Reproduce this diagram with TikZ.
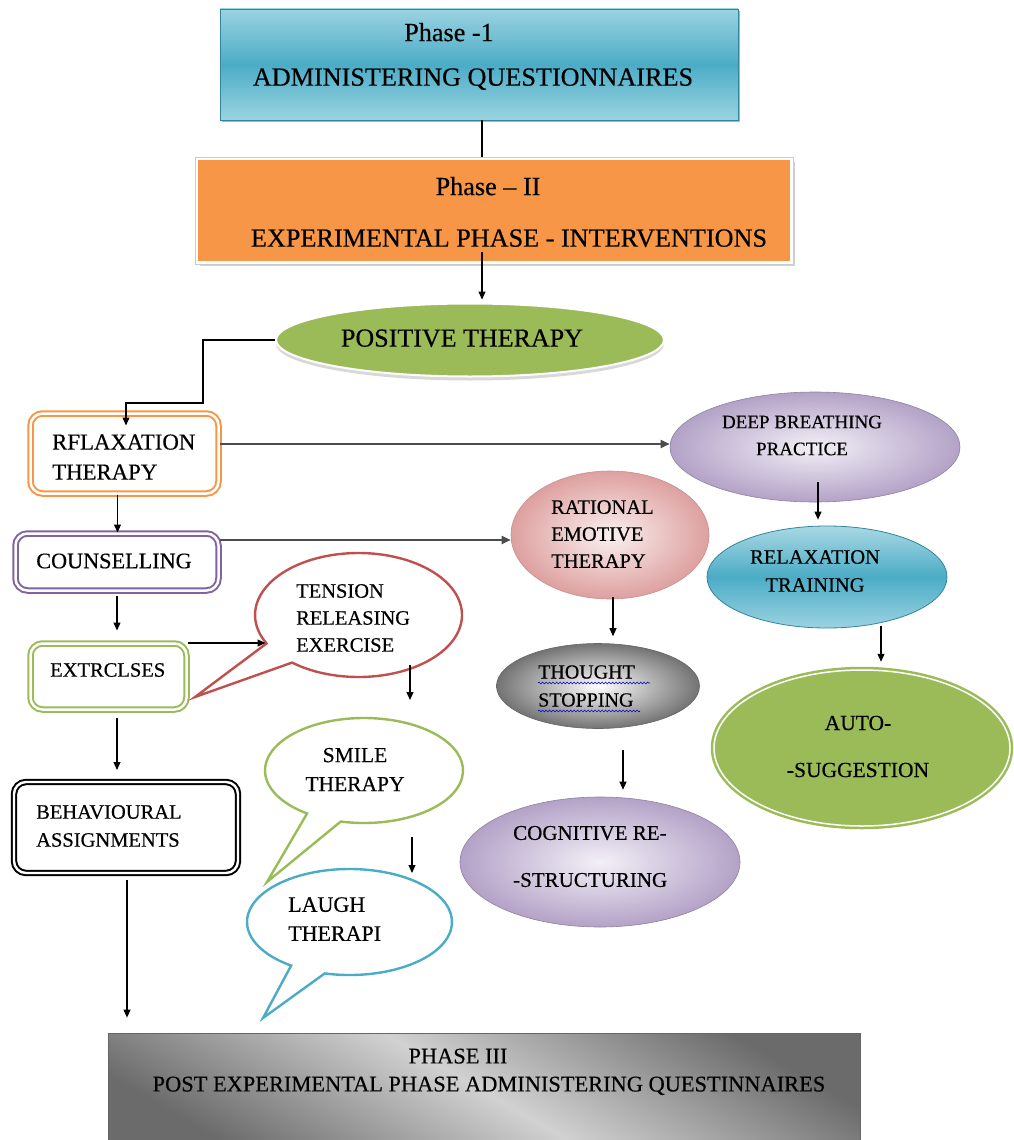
\documentclass[tikz,border=0pt]{standalone}
\usepackage{fontspec}
\setmainfont{Liberation Serif}[FakeBold=0.4]
\usetikzlibrary{shapes.geometric,arrows.meta,calc,shadows,decorations.pathmorphing}
\definecolor{teal1}{HTML}{4BACC6}
\definecolor{teal2}{HTML}{9BD3E1}
\definecolor{tealdk}{HTML}{31859C}
\definecolor{orng}{HTML}{F79646}
\definecolor{grn}{HTML}{9BBB59}
\definecolor{purp}{HTML}{8064A2}
\definecolor{redb}{HTML}{C0504D}
\definecolor{lav}{HTML}{B3A2C7}
\definecolor{lavl}{HTML}{F3F0F7}
\definecolor{pinkd}{HTML}{DDA09F}
\definecolor{pinkl}{HTML}{FBF0F0}
\definecolor{bluel}{HTML}{A9D8E4}
\begin{document}
\begin{tikzpicture}[x=1pt,y=-1pt,
  arr/.style={-{Triangle[length=8pt,width=7pt]}, line width=1.1pt, black},
  arrg/.style={-{Triangle[length=9pt,width=8pt]}, line width=1.8pt, draw=black!70},
  dbox/.style={rectangle, rounded corners=12pt, double=white, double distance=2.5pt, line width=2pt, fill=white, inner sep=0pt},
  bub/.style={line width=2.4pt, fill=white},
  t/.style={inner sep=0pt, align=left, font=\fontsize{21}{28}\selectfont},
  th/.style={inner sep=0pt, text depth=0pt, font=\fontsize{26.2}{30}\selectfont},
  ell/.style={ellipse, inner sep=0pt}
]
\useasboundingbox (0,0) rectangle (1013,1140);

% Phase 1
\node[rectangle, minimum width=518pt, minimum height=111pt, top color=teal2, bottom color=teal2, middle color=teal1,
      draw=tealdk, line width=0.8pt, drop shadow={shadow xshift=1.5pt, shadow yshift=-2pt, fill=black!60}] (p1) at (479,64.5) {};
\node[th] (p1a) at (449,32) {Phase -1};
\node[th] (p1b) at (473,77) {ADMINISTERING QUESTIONNAIRES};

% Phase 2
\node[rectangle, minimum width=595pt, minimum height=104pt, fill=orng, draw=white, line width=3pt,
      drop shadow={shadow xshift=3pt, shadow yshift=-3pt, fill=black!35}] (p2) at (494,210.5) {};
\draw[black!20, line width=0.6pt] (p2.north west) rectangle (p2.south east);
\node[th] (p2a) at (488,186) {Phase – II};
\node[th] (p2b) at (509,238) {EXPERIMENTAL PHASE - INTERVENTIONS};

\draw[line width=1.1pt] ([xshift=3pt]p1.south) -- ([xshift=3pt]p1.south |- p2.north);

% Positive therapy
\node[ell, minimum width=388pt, minimum height=73pt, fill=grn, draw=white, line width=2pt,
      drop shadow={shadow xshift=0pt, shadow yshift=-4pt, fill=black!30}] (pt) at (470,340) {};
\node[th, font=\fontsize{26}{30}\selectfont] (ptT) at (462,338) {POSITIVE THERAPY};
\draw[arr] ($(p2.south)+(-12,-12)$) -- ($(pt.north)+(12,-3)$);

% Left column boxes
\node[dbox, draw=orng, minimum width=188pt, minimum height=80pt] (rt) at (124.5,453.5) {};
\node[t, anchor=west, font=\fontsize{22.8}{30}\selectfont] (rtT) at (52,457) {RFLAXATION\\THERAPY};

\node[dbox, draw=purp, minimum width=203pt, minimum height=57pt] (co) at (117,562) {};
\node[t, font=\fontsize{22.2}{28}\selectfont] (coT) at (114,561) {COUNSELLING};

\node[dbox, draw=grn, minimum width=156pt, minimum height=66pt] (ex) at (108.5,676.5) {};
\node[t, anchor=west, font=\fontsize{20.5}{26}\selectfont] (exT) at (50,670) {EXTRCLSES};

\node[dbox, draw=black, line width=2pt, double distance=2.4pt, minimum width=224pt, minimum height=91pt] (beh) at (126,827.5) {};
\node[t, anchor=west, font=\fontsize{20.5}{28}\selectfont] (beT) at (36,826) {BEHAVIOURAL\\ASSIGNMENTS};

% Phase 3
\node[rectangle, minimum width=752pt, minimum height=117pt, shading=axis, top color=black!58, bottom color=black!58, middle color=black!18,
      shading angle=-30, draw=black!60, line width=0.8pt] (p3) at (484,1091.5) {};
\node[th, font=\fontsize{22.4}{26}\selectfont] (p3a) at (458,1056) {PHASE III};
\node[th, font=\fontsize{22.4}{26}\selectfont] (p3b) at (489,1084) {POST EXPERIMENTAL PHASE ADMINISTERING QUESTINNAIRES};

% Speech bubbles
\node[ell, minimum width=207pt, minimum height=124pt] (ten) at (358.5,615) {};
\draw[bub, draw=redb] ($(ten.center)+(230.1:103.5pt and 62pt)$) arc[start angle=230.1, end angle=567.3, x radius=103.5pt, y radius=62pt] -- (195,697) -- cycle;
\node[t, anchor=west, font=\fontsize{20.5}{27}\selectfont] (teT) at (296,618) {TENSION\\RELEASING\\EXERCISE};

\node[ell, minimum width=198pt, minimum height=105pt] (sm) at (364,770.5) {};
\draw[bub, draw=grn] ($(sm.center)+(256.4:99pt and 52.5pt)$) arc[start angle=256.4, end angle=594.9, x radius=99pt, y radius=52.5pt] -- (267,882) -- cycle;
\node[t, align=center, font=\fontsize{21.5}{29}\selectfont] (smT) at (355,769.5) {SMILE\\THERAPY};

\node[ell, minimum width=205pt, minimum height=106pt] (la) at (349.5,922) {};
\draw[bub, draw=teal1] ($(la.center)+(256:102.5pt and 53pt)$) arc[start angle=256, end angle=595.3, x radius=102.5pt, y radius=53pt] -- (263,1018) -- cycle;
\node[t, anchor=west, font=\fontsize{22}{29}\selectfont] (laT) at (288,919) {LAUGH\\THERAPI};

% Right ellipses
\node[ell, minimum width=290pt, minimum height=110pt, inner color=lavl, outer color=lav, draw=lav!80!black, line width=0.6pt] (dbp) at (815,447) {};
\node[t, align=center, font=\fontsize{19}{27}\selectfont] (dbT) at (802,435.5) {DEEP BREATHING\\PRACTICE};

\node[ell, minimum width=198pt, minimum height=128pt, inner color=pinkl, outer color=pinkd, draw=pinkd!90!black, line width=0.6pt] (ret) at (610,535) {};
\node[t, anchor=west, font=\fontsize{20.5}{27}\selectfont] (retT) at (551,534) {RATIONAL\\EMOTIVE\\THERAPY};

\node[ell, minimum width=240pt, minimum height=102pt, top color=bluel, bottom color=teal2, middle color=teal1, draw=tealdk, line width=0.8pt] (rt2) at (827,577) {};
\node[t, align=center, font=\fontsize{20.5}{28}\selectfont] (rt2T) at (815,571) {RELAXATION\\TRAINING};

\node[ell, minimum width=203pt, minimum height=85pt, inner color=white, outer color=black!55, draw=black!60, line width=0.6pt] (tho) at (598,686) {};
\node[t, anchor=west, font=\fontsize{20}{28}\selectfont] (thT) at (538,686) {THOUGHT\\STOPPING};
\draw[blue!80!black, line width=0.6pt, decorate, decoration={snake, amplitude=0.9pt, segment length=3.5pt}] ($(thT.west)+(0,-3)$) -- ++(112,0);
\draw[blue!80!black, line width=0.6pt, decorate, decoration={snake, amplitude=0.9pt, segment length=3.5pt}] ($(thT.west)+(0,25)$) -- ++(102,0);

\node[ell, minimum width=296pt, minimum height=156pt, fill=grn, draw=grn, double=white, double distance=1.5pt, line width=2.5pt] (as) at (862,748) {};
\node[t, align=center, font=\fontsize{21.5}{47}\selectfont] (asT) at (858,746.5) {AUTO-\\-SUGGESTION};

\node[ell, minimum width=280pt, minimum height=130pt, inner color=lavl, outer color=lav, draw=lav!80!black, line width=0.6pt] (cog) at (600,862) {};
\node[t, anchor=west, font=\fontsize{21}{47}\selectfont] (cogT) at (513,856.5) {COGNITIVE RE-\\-STRUCTURING};

% Connectors
\coordinate (bend) at (203,403);
\draw[arr] (pt.west) -| (bend) -| ($(rt.north)+(1.5,13)$);

\coordinate (r1) at ($(rt.east)+(0,-9.5)$);
\draw[arrg] (r1) -- (r1 -| dbp.west);

\coordinate (r2) at ($(rt.south)+(-7,0)$);
\draw[arr] (r2) -- (r2 |- co.north);

\coordinate (c1) at ($(co.east)+(0,-22)$);
\draw[arrg] (c1) -- (c1 -| ret.west);

\coordinate (c2) at ($(co.south)+(0,4)$);
\draw[arr, shorten >=12pt] (c2) -- (c2 |- ex.north);

\coordinate (te) at ($(ten.center)+(-93,28)$);
\draw[arr] (ex.north east |- te) -- (te);

\draw[arr] ($(ten.center)+(51.5,50)$) -- ($(sm.center)+(46,-70.5)$);
\draw[arr] ($(sm.center)+(48,66.5)$) -- ($(la.center)+(62.5,-49)$);

\coordinate (x1) at ($(ex.south)+(8.5,7)$);
\draw[arr, shorten >=11pt] (x1) -- (x1 |- beh.north);

\coordinate (b1) at ($(beh.south)+(1,6)$);
\draw[arr, shorten >=15pt] (b1) -- (b1 |- p3.north);

\coordinate (d1) at ($(dbp.center)+(3,35)$);
\draw[arr, shorten >=6pt] (d1) -- (d1 |- rt2.north);

\coordinate (d2) at ($(rt2.center)+(54,49)$);
\draw[arr, shorten >=7pt] (d2) -- (d2 |- as.north);

\coordinate (d3) at ($(ret.center)+(3,62)$);
\draw[arr, shorten >=7pt] (d3) -- (d3 |- tho.north);

\coordinate (d4) at ($(tho.center)+(25,64)$);
\draw[arr, shorten >=7pt] (d4) -- (d4 |- cog.north);
\end{tikzpicture}
\end{document}
